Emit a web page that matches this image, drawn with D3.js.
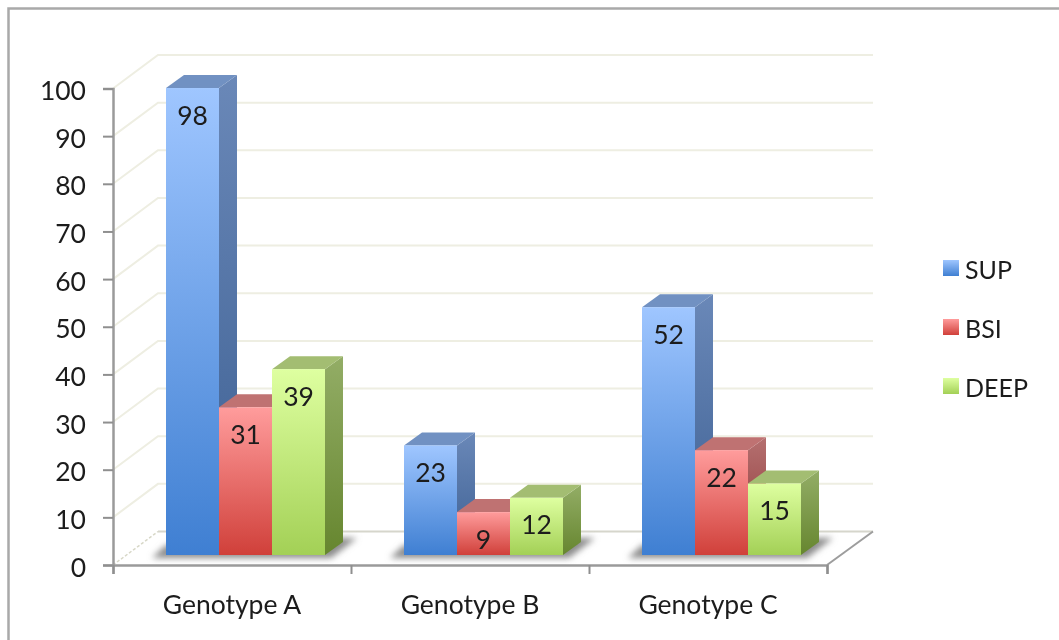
<!DOCTYPE html>
<html>
<head>
<meta charset="utf-8">
<script src="https://cdn.jsdelivr.net/npm/d3@7"></script>
<style>
    html, body { margin: 0; padding: 0; background: #fff; overflow: hidden; }
    svg { display: block; filter: blur(0.55px); }
    text { font-family: Lato, "Open Sans", sans-serif; fill: #1c1c1c; }
</style>
</head>
<body>
<script>
const categories = ["Genotype A", "Genotype B", "Genotype C"];
const seriesNames = ["SUP", "BSI", "DEEP"];
const supValues = [98, 23, 52];
const bsiValues = [31, 9, 22];
const deepValues = [39, 12, 15];
const yTicks = [0, 10, 20, 30, 40, 50, 60, 70, 80, 90, 100];

const allValues = [supValues, bsiValues, deepValues];

// couleurs : [haut face, bas face, haut côté, bas côté, dessus]
const colors = {
    SUP: ["#9fc6ff", "#3f7fd2", "#6a88b8", "#3c5f92", "#7191c2"],
    BSI: ["#ff9c9c", "#d0403a", "#b57070", "#8a3232", "#bf7272"],
    DEEP: ["#deffa0", "#a3d056", "#93ad66", "#66862f", "#a3bd72"]
};

const fontSize = 26.5;
const width = 1059, height = 640;
let svg = d3.select("body").append("svg")
    .attr("width", width)
    .attr("height", height);

let defs = svg.append("defs");
seriesNames.forEach((s) => {
    let c = colors[s];
    let g1 = defs.append("linearGradient").attr("id", "front" + s).attr("x1", 0).attr("x2", 0).attr("y1", 0).attr("y2", 1);
    g1.append("stop").attr("offset", "0%").attr("stop-color", c[0]);
    g1.append("stop").attr("offset", "100%").attr("stop-color", c[1]);
    let g2 = defs.append("linearGradient").attr("id", "side" + s).attr("x1", 0).attr("x2", 0).attr("y1", 0).attr("y2", 1);
    g2.append("stop").attr("offset", "0%").attr("stop-color", c[2]);
    g2.append("stop").attr("offset", "100%").attr("stop-color", c[3]);
});
defs.append("filter").attr("id", "soft").attr("x", "-20%").attr("y", "-50%").attr("width", "140%").attr("height", "200%")
    .append("feGaussianBlur").attr("stdDeviation", 3);

// cadre gris de la capture
svg.append("path")
    .attr("d", "M8.5,640 V8.5 H1059")
    .attr("fill", "none")
    .attr("stroke", "#a9a9a9")
    .attr("stroke-width", 2.5);

// échelles
const y = d3.scaleLinear().domain([0, 100]).range([565, 88.5]);
const x0 = d3.scaleBand().domain(categories).range([113, 827]);
const x1 = d3.scaleBand().domain(seriesNames).range([53, 212]);
const xEdges = d3.scaleLinear().domain([0, 3]).range([113, 827]);
const legendY = d3.scalePoint().domain(seriesNames).range([268, 386]);

// décalage de la perspective
const wallDx = 45, wallDy = -33.5;
const barDx = 18, barDy = -13;
const baseDrop = 10; // le pied des barres est posé au-dessus du bord avant

// mur du fond : lignes de grille
let grid = svg.append("g");
yTicks.filter((d) => d > 0).forEach((d) => {
    grid.append("polyline")
        .attr("points", [[113, y(d)], [113 + wallDx, y(d) + wallDy], [873, y(d) + wallDy]].join(" "))
        .attr("fill", "none")
        .attr("stroke", "#eeeee2")
        .attr("stroke-width", 2);
});

// sol
svg.append("line")
    .attr("x1", 113).attr("y1", y(0))
    .attr("x2", 113 + wallDx).attr("y2", y(0) + wallDy)
    .attr("stroke", "#d8d8c8").attr("stroke-width", 1.5).attr("stroke-dasharray", "3,2");
svg.append("line")
    .attr("x1", 113 + wallDx).attr("y1", y(0) + wallDy)
    .attr("x2", 873).attr("y2", y(0) + wallDy)
    .attr("stroke", "#d6d6cc").attr("stroke-width", 2);
svg.append("line")
    .attr("x1", 827).attr("y1", y(0))
    .attr("x2", 873).attr("y2", y(0) + wallDy)
    .attr("stroke", "#9d9d9d").attr("stroke-width", 2);

// barres
categories.forEach((cat, i) => {
    let left = x0(cat) + x1(seriesNames[0]);
    let right = x0(cat) + x1(seriesNames[2]) + x1.bandwidth();
    let base = y(0) - baseDrop;

    svg.append("polygon")
        .attr("points", [[left - 14, base + 3], [right + 6, base + 3], [right + 32, base - 17], [right + 10, base - 17], [left, base - 10]].join(" "))
        .attr("fill", "#8c8c8c")
        .attr("filter", "url(#soft)");

    let monGroupe = svg.append("g");
    seriesNames.forEach((s, j) => {
        let v = allValues[j][i];
        let a = x0(cat) + x1(s);
        let b = a + x1.bandwidth();
        let top = y(v) - baseDrop;

        monGroupe.append("polygon")
            .attr("points", [[b, top], [b + barDx, top + barDy], [b + barDx, base + barDy], [b, base]].join(" "))
            .attr("fill", "url(#side" + s + ")");
        monGroupe.append("polygon")
            .attr("points", [[a, top], [a + barDx, top + barDy], [b + barDx, top + barDy], [b, top]].join(" "))
            .attr("fill", colors[s][4]);
        monGroupe.append("rect")
            .attr("x", a).attr("y", top)
            .attr("width", x1.bandwidth()).attr("height", base - top)
            .attr("fill", "url(#front" + s + ")");
    });
    seriesNames.forEach((s, j) => {
        let v = allValues[j][i];
        monGroupe.append("text")
            .attr("x", x0(cat) + x1(s) + x1.bandwidth() / 2)
            .attr("y", y(v) - baseDrop + 27)
            .attr("dy", "0.36em")
            .attr("text-anchor", "middle")
            .attr("font-size", fontSize)
            .text(v);
    });
});

// axes
let axisY = svg.append("g")
    .attr("transform", "translate(113,0)")
    .call(d3.axisLeft(y).tickValues(yTicks).tickSize(10).tickPadding(17));
let axisX = svg.append("g")
    .attr("transform", "translate(0," + y(0) + ")")
    .call(d3.axisBottom(xEdges).tickValues([0, 1, 2, 3]).tickSize(9).tickFormat(""));
let axisLabels = svg.append("g")
    .attr("transform", "translate(0,592)")
    .call(d3.axisBottom(x0).tickSize(0));
axisLabels.select(".domain").remove();

[axisY, axisX].forEach((a) => {
    a.selectAll(".domain").attr("stroke", "#9a9a9a").attr("stroke-width", 2.5);
    a.selectAll(".tick line").attr("stroke", "#8f8f8f").attr("stroke-width", 2);
});
axisY.selectAll("text").attr("font-size", fontSize).attr("dy", "0.42em").attr("fill", "#1c1c1c");
axisY.attr("font-family", null);
axisX.attr("font-family", null);
axisLabels.attr("font-family", null);
axisLabels.selectAll("text").attr("font-size", fontSize).attr("fill", "#1c1c1c").attr("dy", "0.71em");

// légende
seriesNames.forEach((s) => {
    svg.append("rect")
        .attr("x", 943).attr("y", legendY(s) - 8)
        .attr("width", 16).attr("height", 16)
        .attr("fill", "url(#front" + s + ")");
    svg.append("text")
        .attr("x", 965).attr("y", legendY(s) + 2)
        .attr("dy", "0.36em")
        .attr("font-size", 25)
        .text(s);
});
</script>
</body>
</html>
